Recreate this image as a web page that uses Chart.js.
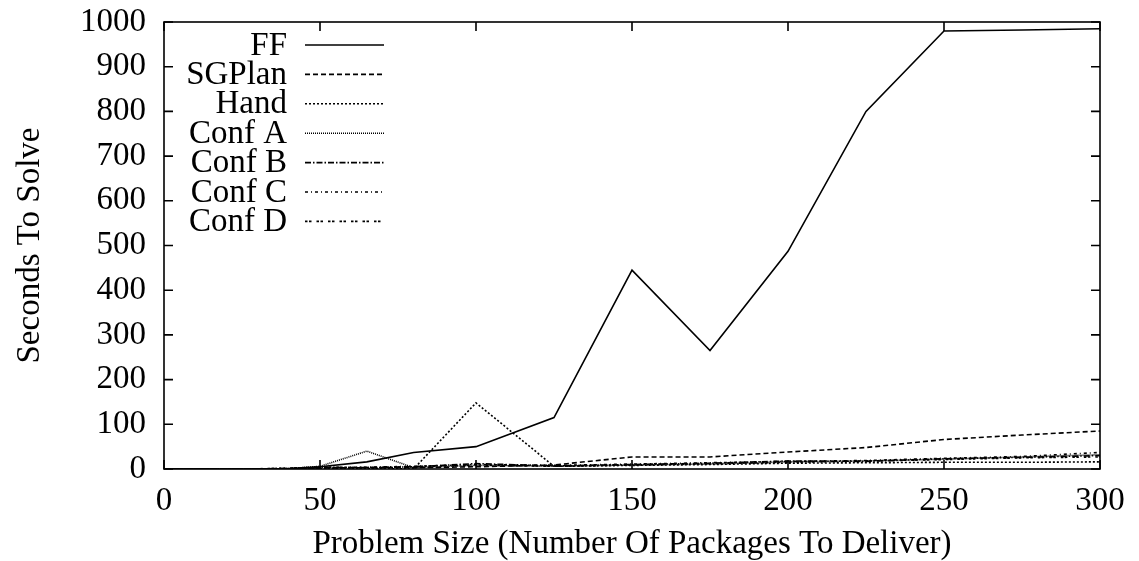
<!DOCTYPE html>
<html>
<head>
  <title>Seconds To Solve</title>
  <style>
    body {
      margin: 0;
      padding: 0;
      background-color: #ffffff;
    }

    .chart-box {
      position: relative;
      width: 1139px;
      height: 561px;
    }
  </style>
  <script src="https://cdn.jsdelivr.net/npm/chart.js"></script>
</head>
<body>
<div class="chart-box">
  <canvas id="solveTimeChart"></canvas>
</div>

<script>
  // Problem sizes (packages to deliver) where every planner was timed
  const sizes = [0, 10, 20, 30, 40, 50, 65, 80, 100, 125, 150, 175, 200, 225, 250, 275, 300];

  // Seconds to solve, one array per planner
  const ff     = [0, 0, 0, 0.5, 1, 5, 16, 37, 50, 115, 445, 265, 487, 800, 980, 982, 985];
  const sgplan = [0, 0, 0, 0, 0.5, 2, 3, 3, 5, 9, 27, 27, 38, 48, 66, 76, 85];
  const hand   = [0, 0, 0, 0, 0, 1, 1, 0, 148, 6, 8, 10, 13, 14, 15, 15, 16];
  const confA  = [0, 0, 0, 0, 1, 6, 40, 3, 8, 6, 9, 11, 16, 18, 22, 27, 32];
  const confB  = [0, 0, 0, 0.5, 1, 4, 3, 5, 12, 7, 10, 13, 18, 17, 23, 26, 30];
  const confC  = [0, 0, 0, 0.5, 1, 3, 4, 6, 10, 8, 11, 14, 17, 19, 24, 28, 37];
  const confD  = [0, 0, 0, 0.5, 2, 4, 3, 5, 9, 6, 9, 12, 15, 18, 21, 25, 27];

  const xTicks = [0, 50, 100, 150, 200, 250, 300];
  const yTicks = [0, 100, 200, 300, 400, 500, 600, 700, 800, 900, 1000];

  const serif = '"Liberation Serif", "DejaVu Serif", serif';
  const fontSize = 33;

  function points(values) {
    return sizes.map((x, i) => ({ x: x, y: values[i] }));
  }

  function series(label, values, dash) {
    return {
      label: label,
      data: points(values),
      borderColor: '#000000',
      backgroundColor: '#000000',
      borderWidth: 1.6,
      borderDash: dash,
      pointRadius: 0,
      tension: 0,
      fill: false
    };
  }

  // gnuplot-style key: right-aligned names with a line sample after them
  const keyPlugin = {
    id: 'key',
    afterDatasetsDraw(chart) {
      const ctx = chart.ctx;
      ctx.save();
      ctx.font = fontSize + 'px ' + serif;
      ctx.fillStyle = '#000000';
      ctx.textAlign = 'right';
      ctx.textBaseline = 'middle';
      chart.data.datasets.forEach((ds, i) => {
        const y = 45 + i * 29.4;
        ctx.fillText(ds.label, 287, y + 1);
        ctx.beginPath();
        ctx.setLineDash(ds.borderDash || []);
        ctx.lineWidth = ds.borderWidth;
        ctx.strokeStyle = ds.borderColor;
        ctx.moveTo(305, y);
        ctx.lineTo(384, y);
        ctx.stroke();
      });
      ctx.restore();
    }
  };

  // Border box with inward tick marks on all four sides
  const framePlugin = {
    id: 'frame',
    afterDraw(chart) {
      const ctx = chart.ctx;
      const area = chart.chartArea;
      const xs = chart.scales.x;
      const ys = chart.scales.y;
      const len = 9;
      ctx.save();
      ctx.strokeStyle = '#000000';
      ctx.lineWidth = 1.6;
      ctx.setLineDash([]);
      ctx.beginPath();
      yTicks.forEach(v => {
        const py = ys.getPixelForValue(v);
        ctx.moveTo(area.left, py);
        ctx.lineTo(area.left + len, py);
        ctx.moveTo(area.right, py);
        ctx.lineTo(area.right - len, py);
      });
      xTicks.forEach(v => {
        const px = xs.getPixelForValue(v);
        ctx.moveTo(px, area.bottom);
        ctx.lineTo(px, area.bottom - len);
        ctx.moveTo(px, area.top);
        ctx.lineTo(px, area.top + len);
      });
      ctx.stroke();
      ctx.strokeRect(area.left, area.top, area.right - area.left, area.bottom - area.top);
      ctx.restore();
    }
  };

  const solveCtx = document.getElementById('solveTimeChart').getContext('2d');

  const solveTimeChart = new Chart(solveCtx, {
    type: 'line',
    data: {
      datasets: [
        series('FF', ff, []),
        series('SGPlan', sgplan, [5, 3]),
        series('Hand', hand, [2, 2]),
        series('Conf A', confA, [1, 1]),
        series('Conf B', confB, [6, 2, 1.5, 2]),
        series('Conf C', confC, [3, 3, 1, 3]),
        series('Conf D', confD, [2.5, 1.5, 2.5, 5])
      ]
    },
    options: {
      responsive: true,
      maintainAspectRatio: false,
      animation: false,
      layout: {
        padding: { left: 0, right: 39, top: 22, bottom: 0 }
      },
      plugins: {
        legend: { display: false },
        tooltip: { enabled: false }
      },
      scales: {
        x: {
          type: 'linear',
          min: 0,
          max: 300,
          afterBuildTicks: scale => {
            scale.ticks = xTicks.map(v => ({ value: v }));
          },
          afterFit: scale => {
            scale.height = 92;
            scale.paddingLeft = 0;
            scale.paddingRight = 0;
          },
          grid: { display: false, drawTicks: false },
          border: { display: false },
          ticks: {
            color: '#000000',
            padding: 13,
            maxRotation: 0,
            callback: v => String(v),
            font: { family: serif, size: fontSize }
          },
          title: {
            display: true,
            text: 'Problem Size (Number Of Packages To Deliver)',
            color: '#000000',
            padding: { top: 0, bottom: 0 },
            font: { family: serif, size: fontSize, lineHeight: 1 }
          }
        },
        y: {
          min: 0,
          max: 1000,
          afterBuildTicks: scale => {
            scale.ticks = yTicks.map(v => ({ value: v }));
          },
          afterFit: scale => {
            scale.width = 164;
            scale.paddingTop = 0;
            scale.paddingBottom = 0;
          },
          grid: { display: false, drawTicks: false },
          border: { display: false },
          ticks: {
            color: '#000000',
            padding: 18,
            callback: v => String(v),
            font: { family: serif, size: fontSize }
          },
          title: {
            display: true,
            text: 'Seconds To Solve',
            color: '#000000',
            padding: { top: 14, bottom: 0 },
            font: { family: serif, size: fontSize, lineHeight: 1 }
          }
        }
      }
    },
    plugins: [keyPlugin, framePlugin]
  });
</script>

</body>
</html>
